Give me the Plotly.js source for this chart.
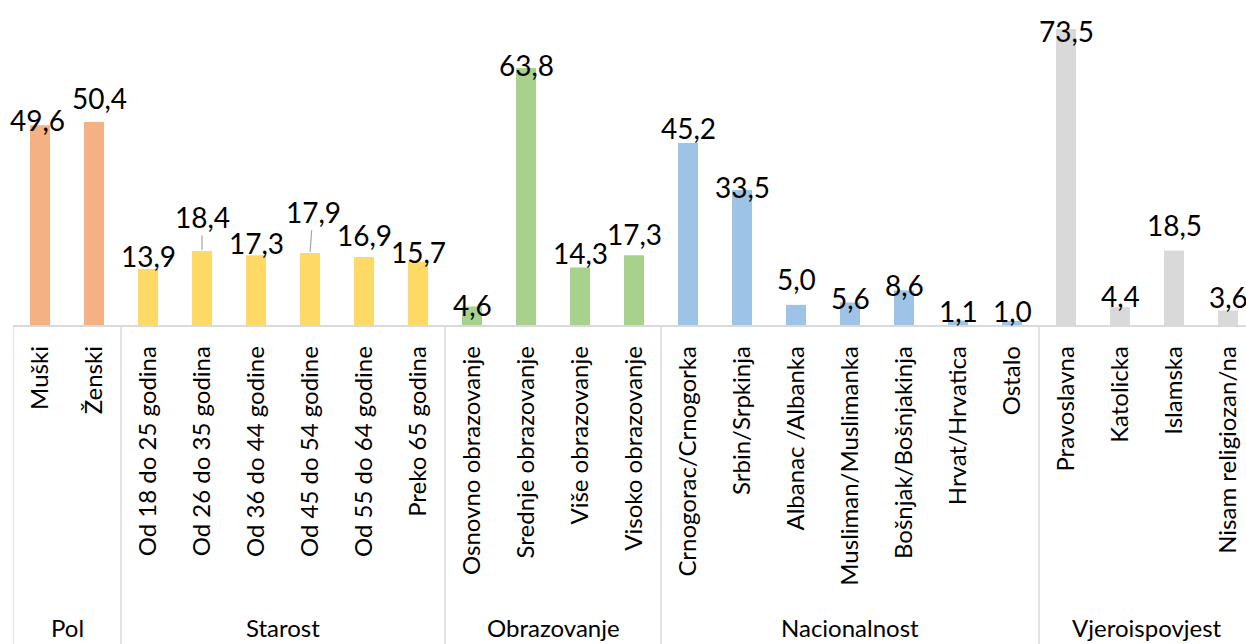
<!DOCTYPE html>
<html>
<head>
<meta charset="utf-8">
<script src="https://cdn.plot.ly/plotly-3.0.1.min.js"></script>
<style>html,body{margin:0;padding:0;background:#fff;}#chart{width:1246px;height:644px;}</style>
</head>
<body>
<div id="chart"></div>
<script>
// ---- data ----
const groupNames = ["Pol", "Starost", "Obrazovanje", "Nacionalnost", "Vjeroispovjest"];
const polLabels = ["Muški", "Ženski"];
const polValues = [49.6, 50.4];
const starostLabels = ["Od 18 do 25 godina", "Od 26 do 35 godina", "Od 36 do 44 godine", "Od 45 do 54 godine", "Od 55 do 64 godine", "Preko 65 godina"];
const starostValues = [13.9, 18.4, 17.3, 17.9, 16.9, 15.7];
const obrazovanjeLabels = ["Osnovno obrazovanje", "Srednje obrazovanje", "Više obrazovanje", "Visoko obrazovanje"];
const obrazovanjeValues = [4.6, 63.8, 14.3, 17.3];
const nacionalnostLabels = ["Crnogorac/Crnogorka", "Srbin/Srpkinja", "Albanac /Albanka", "Musliman/Muslimanka", "Bošnjak/Bošnjakinja", "Hrvat/Hrvatica", "Ostalo"];
const nacionalnostValues = [45.2, 33.5, 5.0, 5.6, 8.6, 1.1, 1.0];
const vjeraLabels = ["Pravoslavna", "Katolicka", "Islamska", "Nisam religiozan/na"];
const vjeraValues = [73.5, 4.4, 18.5, 3.6];

// ---- styling ----
const groupColors = ["#F4B183", "#FFD966", "#A9D18E", "#9DC3E6", "#D9D9D9"];
// data label nudges (px above bar top, px horizontal), leader-line flags
const labelLift = [5, 24, 13, 34, 12, 41, 22, 10, 1, 3, 14, 21, 15, 3, 26, 4, 5, 10, 10, -2, 11, 26, 14];
const labelDx   = [-3, 5, 0, 0, 0, 3, 0, 0, 0, 0, 0, 0, 0, 0, 0, 0, 0, 0, 0, 0, 0, 0, 0];
const labelLeader = [3, 5];

const FONT = "Lato, 'Open Sans', sans-serif";
const groupLabels = [polLabels, starostLabels, obrazovanjeLabels, nacionalnostLabels, vjeraLabels];
const groupValues = [polValues, starostValues, obrazovanjeValues, nacionalnostValues, vjeraValues];

const allLabels = [].concat(...groupLabels);
const allValues = [].concat(...groupValues);

const traces = groupLabels.map((labs, g) => ({
  type: "bar",
  x: labs,
  y: groupValues[g],
  width: 0.37,
  marker: {color: groupColors[g], line: {width: 0}},
  hoverinfo: "x+y",
  showlegend: false
}));

const fmt = v => v.toFixed(1).replace(".", ",");

const annotations = [];
allLabels.forEach((lab, i) => {
  const v = allValues[i];
  if (labelLeader.includes(i)) {
    annotations.push({
      x: i, y: v, xref: "x", yref: "y",
      text: fmt(v), showarrow: true, arrowhead: 0, arrowwidth: 1.2,
      arrowcolor: "#a6a6a6", standoff: 1,
      ax: labelDx[i], ay: -labelLift[i],
      font: {family: FONT, size: 28, color: "#000"}
    });
  } else {
    annotations.push({
      x: i, y: v, xref: "x", yref: "y",
      text: fmt(v), showarrow: false,
      xanchor: "center", yanchor: "middle",
      yshift: labelLift[i], xshift: labelDx[i],
      font: {family: FONT, size: 28, color: "#000"}
    });
  }
});

// group labels & separators
const shapes = [];
let start = 0;
const bottomPaper = -319 / 325;
groupLabels.forEach((labs, g) => {
  const n = labs.length;
  annotations.push({
    x: start + (n - 1) / 2, y: -302 / 325, xref: "x", yref: "paper",
    text: groupNames[g], showarrow: false, xanchor: "center", yanchor: "middle",
    font: {family: FONT, size: 24, color: "#000"}
  });
  shapes.push({
    type: "line", xref: "x", yref: "paper",
    x0: start - 0.5, x1: start - 0.5, y0: 0, y1: bottomPaper,
    line: {color: "#d9d9d9", width: 1.5}
  });
  start += n;
});

const layout = {
  width: 1246, height: 644,
  margin: {l: 13, r: 0, t: 0, b: 319, pad: 0},
  paper_bgcolor: "#fff", plot_bgcolor: "#fff",
  barmode: "overlay",
  font: {family: FONT, color: "#000"},
  xaxis: {
    type: "category",
    categoryorder: "array", categoryarray: allLabels,
    range: [-0.5, 22.333],
    tickangle: -90,
    tickfont: {family: FONT, size: 24, color: "#000"},
    showline: true, linecolor: "#d9d9d9", linewidth: 1.5,
    ticks: "", showgrid: false, zeroline: false,
    ticklabelstandoff: 10,
    fixedrange: true
  },
  yaxis: {
    range: [0, 80.7],
    visible: false, showgrid: false, zeroline: false,
    fixedrange: true
  },
  shapes: shapes,
  annotations: annotations
};

Plotly.newPlot("chart", traces, layout, {displayModeBar: false, staticPlot: true});
</script>
</body>
</html>
